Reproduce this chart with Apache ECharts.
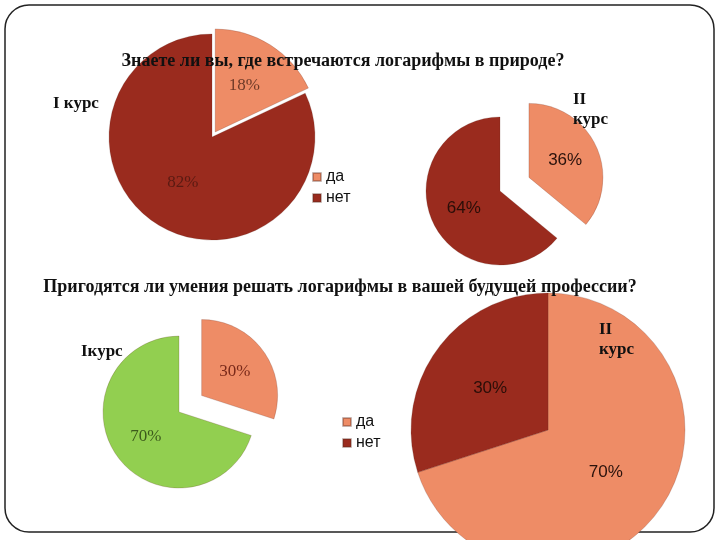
<!DOCTYPE html>
<html>
<head>
<meta charset="utf-8">
<script src="https://cdn.jsdelivr.net/npm/echarts@6/dist/echarts.min.js"></script>
<style>
  html, body { margin: 0; padding: 0; background: #ffffff; }
  #main { width: 720px; height: 540px; }
</style>
</head>
<body>
<div id="main"></div>
<script>
// ответы
const answers = ["да", "нет"];
// Знаете ли вы, где встречаются логарифмы в природе?
const natureCourse1 = [18, 82];
const natureCourse2 = [36, 64];
// Пригодятся ли умения решать логарифмы в вашей будущей профессии?
const jobCourse1 = [30, 70];
const jobCourse2 = [70, 30];

const light = "#ee8c66";
const dark = "#9a2b1e";
const green = "#92cf50";
const serif = "Liberation Serif";
const sans = "Liberation Sans";

function pieData(values, colors, textColors, explode) {
  return values.map(function (v, i) {
    return {
      name: answers[i],
      value: v,
      selected: explode && i === 0,
      itemStyle: { color: colors[i] },
      label: { color: textColors[i] }
    };
  });
}

function pieSeries(values, colors, textColors, center, radius, offset, font) {
  return {
    type: "pie",
    center: center,
    radius: radius,
    startAngle: 90,
    clockwise: true,
    selectedMode: offset ? "single" : false,
    selectedOffset: offset || 0,
    animation: false,
    silent: true,
    label: {
      show: true,
      position: "inside",
      formatter: "{d}%",
      fontFamily: font,
      fontSize: 17
    },
    labelLine: { show: false },
    emphasis: { disabled: true },
    itemStyle: { borderColor: "rgba(90,40,30,0.35)", borderWidth: 0.6 },
    data: pieData(values, colors, textColors, !!offset)
  };
}

const chart = echarts.init(document.getElementById("main"));

const legendItems = [
  { name: "да", itemStyle: { color: light } },
  { name: "нет", itemStyle: { color: dark } }
];

chart.setOption({
  backgroundColor: "#ffffff",
  graphic: [
    {
      type: "rect",
      z: -10,
      shape: { x: 5, y: 5, width: 709, height: 527, r: 24 },
      style: { fill: "none", stroke: "#222", lineWidth: 1.5 }
    }
  ],
  title: [
    {
      text: "Знаете ли вы, где встречаются логарифмы в природе?",
      left: 338, top: 47, textAlign: "center",
      textStyle: { fontFamily: serif, fontWeight: "bold", fontSize: 18, color: "#111" }
    },
    {
      text: "I курс",
      left: 48, top: 90,
      textStyle: { fontFamily: serif, fontWeight: "bold", fontSize: 17, color: "#111" }
    },
    {
      text: "II\nкурс",
      left: 568, top: 85,
      textStyle: { fontFamily: serif, fontWeight: "bold", fontSize: 17, lineHeight: 20, color: "#111" }
    },
    {
      text: "Пригодятся ли умения решать логарифмы в вашей будущей профессии?",
      left: 335, top: 273, textAlign: "center",
      textStyle: { fontFamily: serif, fontWeight: "bold", fontSize: 18, color: "#111" }
    },
    {
      text: "Iкурс",
      left: 76, top: 338,
      textStyle: { fontFamily: serif, fontWeight: "bold", fontSize: 17, color: "#111" }
    },
    {
      text: "II\nкурс",
      left: 594, top: 315,
      textStyle: { fontFamily: serif, fontWeight: "bold", fontSize: 17, lineHeight: 20, color: "#111" }
    }
  ],
  legend: [
    {
      orient: "vertical",
      left: 307, top: 164,
      itemWidth: 8, itemHeight: 8, itemGap: 5,
      icon: "rect",
      selectedMode: false,
      textStyle: { fontFamily: sans, fontSize: 16, color: "#111" },
      data: legendItems
    },
    {
      orient: "vertical",
      left: 337, top: 409,
      itemWidth: 8, itemHeight: 8, itemGap: 5,
      icon: "rect",
      selectedMode: false,
      textStyle: { fontFamily: sans, fontSize: 16, color: "#111" },
      data: legendItems
    }
  ],
  series: [
    pieSeries(natureCourse1, [light, dark], ["#6e3a28", "#5a1a12"], [212, 137], 103, 6, serif),
    pieSeries(natureCourse2, [light, dark], ["#2a120c", "#2a0e08"], [500, 191], 74, 32, sans),
    pieSeries(jobCourse1, [light, green], ["#7a2a1a", "#3c5a1c"], [179, 412], 76, 28, serif),
    pieSeries(jobCourse2, [light, dark], ["#2a120c", "#2a0e08"], [548, 430], 137, 0, sans)
  ]
});
</script>
</body>
</html>
